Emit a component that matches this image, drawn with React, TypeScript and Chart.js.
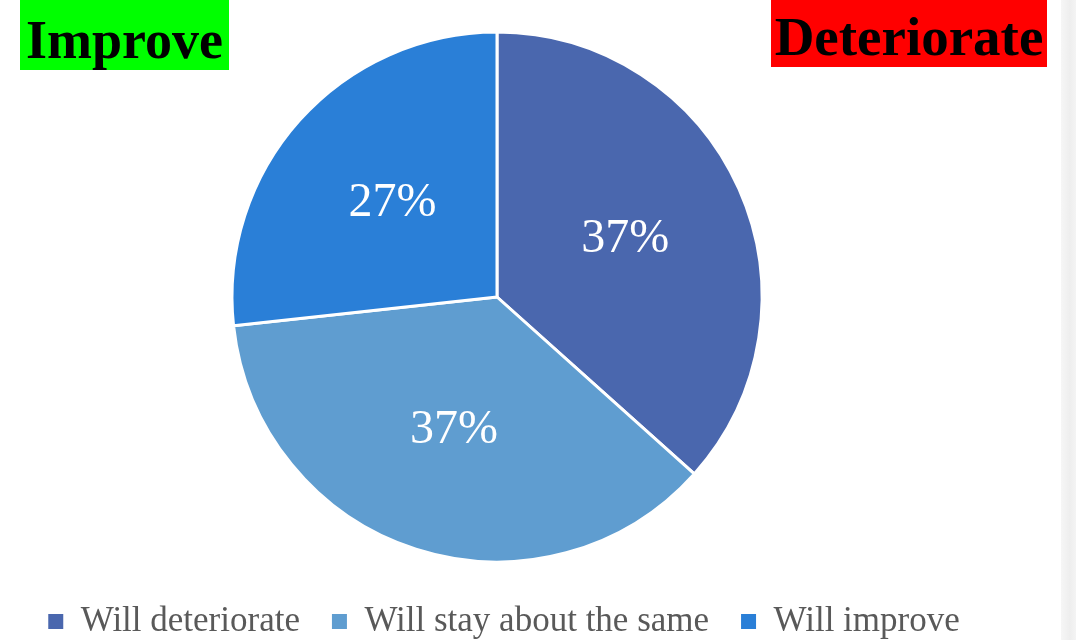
import React, { useEffect, useRef } from "react";
import { Chart, registerables } from "chart.js";

Chart.register(...registerables);

const categories = ["Will deteriorate", "Will stay about the same", "Will improve"];
const values = [37, 37, 27];
const sliceColors = ["#4A67AE", "#5F9DD0", "#2A7FD7"];
const leftTag = "Improve";
const rightTag = "Deteriorate";

const FONT = "'Liberation Serif', 'DejaVu Serif', serif";

const sliceLabels = {
  id: "sliceLabels",
  afterDatasetsDraw(chart: any) {
    const ctx = chart.ctx;
    const meta = chart.getDatasetMeta(0);
    const data = chart.data.datasets[0].data as number[];
    ctx.save();
    ctx.fillStyle = "#ffffff";
    ctx.font = `48px ${FONT}`;
    ctx.textAlign = "center";
    ctx.textBaseline = "middle";
    meta.data.forEach((arc: any, i: number) => {
      const { startAngle, endAngle, outerRadius, x, y } = arc.getProps(
        ["startAngle", "endAngle", "outerRadius", "x", "y"],
        true
      );
      const mid = (startAngle + endAngle) / 2;
      const r = outerRadius * 0.53;
      ctx.fillText(`${data[i]}%`, x + Math.cos(mid) * r, y + Math.sin(mid) * r);
    });
    ctx.restore();
  },
};

const legendShift = {
  id: "legendShift",
  afterLayout(chart: any) {
    if (chart.legend) {
      chart.legend.left += 7;
      chart.legend.right += 7;
    }
  },
};

export default function App() {
  const ref = useRef<HTMLCanvasElement | null>(null);

  useEffect(() => {
    if (!ref.current) return;
    const chart = new Chart(ref.current, {
      type: "pie",
      data: {
        labels: categories,
        datasets: [
          {
            data: values,
            backgroundColor: sliceColors,
            borderColor: "#ffffff",
            borderWidth: 3,
            radius: 265,
          } as any,
        ],
      },
      options: {
        animation: false,
        responsive: false,
        maintainAspectRatio: false,
        layout: { padding: { top: 22, left: 0, right: 82, bottom: 0 } },
        plugins: {
          tooltip: { enabled: false },
          legend: {
            position: "bottom",
            labels: {
              boxWidth: 15,
              boxHeight: 15,
              padding: 32,
              color: "#595959",
              font: { family: FONT, size: 35 },
              generateLabels: (c: any) =>
                (Chart.overrides as any).pie.plugins.legend.labels
                  .generateLabels(c)
                  .map((l: any) => ({ ...l, lineWidth: 0, strokeStyle: l.fillStyle })),
            },
          },
        },
      },
      plugins: [sliceLabels, legendShift],
    });
    return () => chart.destroy();
  }, []);

  const tag: React.CSSProperties = {
    position: "absolute",
    top: 0,
    color: "#000",
    fontFamily: FONT,
    fontWeight: "bold",
    textAlign: "center",
    whiteSpace: "nowrap",
    overflow: "hidden",
  };

  return (
    <div
      style={{
        position: "fixed",
        left: 0,
        top: 0,
        width: 1076,
        height: 640,
        overflow: "hidden",
        background: "#ffffff",
      }}
    >
      <canvas ref={ref} width={1076} height={649} style={{ position: "absolute", left: 0, top: 0 }} />
      <div
        style={{
          ...tag,
          left: 20,
          width: 209,
          height: 70,
          lineHeight: "70px",
          fontSize: 54,
          background: "#00FF00",
        }}
      >
        <span style={{ position: "relative", top: 5 }}>{leftTag}</span>
      </div>
      <div
        style={{
          ...tag,
          left: 771,
          width: 276,
          height: 67,
          lineHeight: "67px",
          fontSize: 55,
          background: "#FF0000",
        }}
      >
        <span style={{ position: "relative", top: 3 }}>{rightTag}</span>
      </div>
      <div
        style={{
          position: "absolute",
          left: 1061,
          top: 0,
          width: 15,
          height: 640,
          background: "linear-gradient(to right, #f6f6f6, #eeeeee 60%, #f4f4f4)",
        }}
      />
    </div>
  );
}
